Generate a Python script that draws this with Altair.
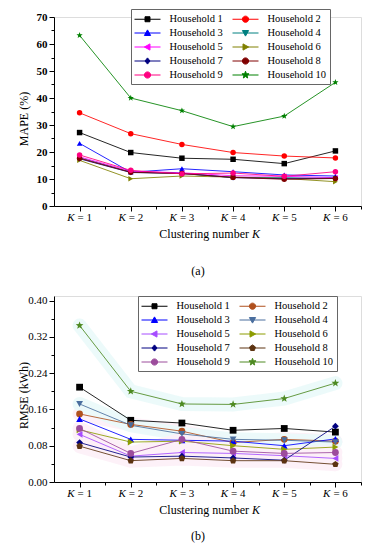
import math
import altair as alt
import pandas as pd

# ---------------- data ----------------
K_VALUES = [1, 2, 3, 4, 5, 6]
K_SUFFIX = ["= 1", "= 2", "= 3", "= 4", "= 5", "= 6"]
HOUSEHOLDS = ["Household 1", "Household 2", "Household 3", "Household 4", "Household 5",
              "Household 6", "Household 7", "Household 8", "Household 9", "Household 10"]

# (a) MAPE (%)
mape_h1 = [27.2, 19.8, 17.7, 17.3, 15.7, 20.4]
mape_h2 = [34.5, 26.8, 22.8, 19.8, 18.5, 17.8]
mape_h3 = [23.2, 12.5, 13.8, 12.7, 11.5, 11.1]
mape_h4 = [17.9, 12.6, 12.0, 10.6, 10.5, 10.2]
mape_h5 = [18.2, 12.9, 12.3, 11.2, 11.0, 10.5]
mape_h6 = [16.9, 10.1, 11.1, 10.7, 10.2, 9.0]
mape_h7 = [17.5, 12.4, 12.1, 10.5, 10.1, 10.3]
mape_h8 = [17.7, 12.5, 12.0, 10.6, 9.9, 10.2]
mape_h9 = [18.9, 13.2, 11.9, 12.2, 11.0, 12.7]
mape_h10 = [63.2, 40.0, 35.3, 29.4, 33.3, 45.8]

# (b) RMSE (kWh)
rmse_h1 = [0.209, 0.136, 0.130, 0.114, 0.118, 0.110]
rmse_h2 = [0.150, 0.127, 0.112, 0.087, 0.094, 0.090]
rmse_h3 = [0.139, 0.094, 0.092, 0.090, 0.080, 0.095]
rmse_h4 = [0.172, 0.125, 0.106, 0.094, 0.092, 0.088]
rmse_h5 = [0.105, 0.057, 0.065, 0.063, 0.058, 0.052]
rmse_h6 = [0.115, 0.088, 0.090, 0.080, 0.072, 0.077]
rmse_h7 = [0.087, 0.055, 0.057, 0.053, 0.048, 0.123]
rmse_h8 = [0.079, 0.047, 0.052, 0.047, 0.047, 0.039]
rmse_h9 = [0.118, 0.063, 0.094, 0.068, 0.063, 0.065]
rmse_h10 = [0.345, 0.200, 0.172, 0.171, 0.184, 0.218]

MAPE_SERIES = [mape_h1, mape_h2, mape_h3, mape_h4, mape_h5,
               mape_h6, mape_h7, mape_h8, mape_h9, mape_h10]
RMSE_SERIES = [rmse_h1, rmse_h2, rmse_h3, rmse_h4, rmse_h5,
               rmse_h6, rmse_h7, rmse_h8, rmse_h9, rmse_h10]

Y_TICKS_A = [0, 10, 20, 30, 40, 50, 60, 70]
Y_MINOR_A = [5, 15, 25, 35, 45, 55, 65]
Y_TICKS_B = [0.0, 0.08, 0.16, 0.24, 0.32, 0.40]
Y_MINOR_B = [0.04, 0.12, 0.20, 0.28, 0.36]
X_MINOR = [1.5, 2.5, 3.5, 4.5, 5.5, 6.5]

# ---------------- styles ----------------
FONT = "Liberation Serif"
W = 307
COLORS_A = ["#000000", "#FF0000", "#0000FF", "#008080", "#FF00FF",
            "#808000", "#000080", "#800000", "#FF0080", "#008000"]
COLORS_B = ["#000000", "#B0501E", "#0000FF", "#4A6E9E", "#A64DFF",
            "#8C9C00", "#000080", "#5C3311", "#9C4C9C", "#4E8A22"]
GLOW_B = ["transparent", "#FDEFF7", "transparent", "#EAFAFA", "#FDEFF7",
          "transparent", "transparent", "#FDEFF7", "#FDEFF7", "#EAFAFA"]
MARKERS_A = ["square", "circle", "triangle-up", "triangle-down", "triangle-left",
             "triangle-right", "diamond", "circle", "circle", "star"]
MARKERS_B = ["square", "circle", "triangle-up", "triangle-down", "triangle-left",
             "triangle-right", "diamond", "pentagon", "circle", "star"]


def _poly(n, r, inner=None, rot=-90.0):
    m = 2 * n if inner else n
    pts = []
    for i in range(m):
        a = math.radians(rot + i * 360.0 / m)
        rr = r if (inner is None or i % 2 == 0) else inner
        pts.append((rr * math.cos(a), rr * math.sin(a)))
    return "M" + "L".join(f"{x:.3f},{y:.3f}" for x, y in pts) + "Z"


def marker_path(kind, s):
    if kind == "square":
        q = s * 0.8
        return f"M{-q},{-q}H{q}V{q}H{-q}Z"
    if kind == "circle":
        return f"M{-s},0A{s},{s},0,1,0,{s},0A{s},{s},0,1,0,{-s},0Z"
    if kind == "triangle-up":
        return f"M0,{-s}L{s},{s*0.8}L{-s},{s*0.8}Z"
    if kind == "triangle-down":
        return f"M0,{s}L{s},{-s*0.8}L{-s},{-s*0.8}Z"
    if kind == "triangle-left":
        return f"M{-s},0L{s*0.8},{-s}L{s*0.8},{s}Z"
    if kind == "triangle-right":
        return f"M{s},0L{-s*0.8},{-s}L{-s*0.8},{s}Z"
    if kind == "diamond":
        return f"M0,{-s}L{s*0.8},0L0,{s}L{-s*0.8},0Z"
    if kind == "star":
        return _poly(5, s * 1.2, inner=s * 0.5)
    if kind == "pentagon":
        return _poly(5, s)
    return ""


def chart_shape(kind):
    if kind in ("star", "pentagon"):
        return marker_path(kind, 1.0)
    return kind


def legend_shape(kind):
    # symbol box is 13 px (unit = 6.5 px); the line spans 26 px
    return "M-2,0L2,0" + marker_path(kind, 0.48)


def long_table(series_list):
    rows = []
    for hh, vals in zip(HOUSEHOLDS, series_list):
        for k, v in zip(K_VALUES, vals):
            rows.append({"hh": hh, "K": k, "v": v})
    return pd.DataFrame(rows)


def panel(series, colors, markers, glow, y_max, y_major, y_minor, y_format, y_title,
          y_bold, title_dy, height, legend_x, legend_y, caption, caption_dy, pt_size):
    df = long_table(series)
    df_k = pd.DataFrame({"K": K_VALUES, "rest": K_SUFFIX})
    df_one = pd.DataFrame({"n": [0]})
    xs = alt.Scale(domain=[0.5, 6.5], nice=False, zero=False)
    ys = alt.Scale(domain=[0, y_max], nice=False, zero=False)
    col = alt.Color("hh:N", scale=alt.Scale(domain=HOUSEHOLDS, range=colors), legend=None)
    base = alt.Chart(df)

    layers = []
    if glow is not None:
        layers.append(base.mark_line(strokeWidth=14, opacity=0.9, strokeCap="round").encode(
            x=alt.X("K:Q", scale=xs, axis=None),
            y=alt.Y("v:Q", scale=ys, axis=None),
            stroke=alt.Stroke("hh:N", scale=alt.Scale(domain=HOUSEHOLDS, range=glow), legend=None),
        ))

    lines = base.mark_line(strokeWidth=1, opacity=0.85).encode(
        x=alt.X("K:Q", scale=xs, axis=alt.Axis(
            orient="bottom", values=K_VALUES, labels=False, title=None, grid=False,
            tickSize=5, tickColor="black", domainColor="black")),
        y=alt.Y("v:Q", scale=ys, axis=alt.Axis(
            orient="left", values=y_major, format=y_format, title=y_title, grid=False,
            tickSize=5, tickColor="black", domainColor="black",
            labelFont=FONT, labelFontSize=11, labelColor="black",
            labelFontWeight="bold" if y_bold else "normal", labelPadding=2,
            titleFont=FONT, titleFontSize=12, titleFontWeight="normal", titleColor="black",
            titleX=-31, titleY=height / 2 + title_dy, titleBaseline="middle")),
        color=col,
    )
    minor = base.mark_point().encode(
        x=alt.X("K:Q", scale=xs, axis=alt.Axis(
            orient="bottom", values=X_MINOR, labels=False, title=None, grid=False,
            domain=False, tickSize=3, tickColor="black")),
        y=alt.Y("v:Q", scale=ys, axis=alt.Axis(
            orient="left", values=y_minor, labels=False, title=None, grid=False,
            domain=False, tickSize=3, tickColor="black")),
    ).transform_filter("false")
    points = base.mark_point(filled=True, size=pt_size, opacity=1).encode(
        x=alt.X("K:Q", scale=xs, axis=None),
        y=alt.Y("v:Q", scale=ys, axis=None),
        color=col,
        shape=alt.Shape("hh:N", scale=alt.Scale(
            domain=HOUSEHOLDS, range=[chart_shape(m) for m in markers]), legend=None),
    )
    leg = alt.Legend(title=None, orient="none", legendX=legend_x, legendY=legend_y,
                     columns=2, direction="horizontal", columnPadding=7, rowPadding=1,
                     padding=3, strokeColor="#666666", fillColor="white",
                     labelFont=FONT, labelFontSize=10.5, labelColor="black",
                     labelOffset=15, labelLimit=200, symbolOffset=6.5,
                     symbolSize=169, symbolStrokeWidth=1, symbolOpacity=1)
    legend_layer = base.mark_point(filled=True).encode(
        x=alt.X("K:Q", scale=xs, axis=None),
        y=alt.Y("v:Q", scale=ys, axis=None),
        fill=alt.Fill("hh:N", scale=alt.Scale(domain=HOUSEHOLDS, range=colors), legend=leg),
        stroke=alt.Stroke("hh:N", scale=alt.Scale(domain=HOUSEHOLDS, range=colors), legend=leg),
        shape=alt.Shape("hh:N", scale=alt.Scale(
            domain=HOUSEHOLDS, range=[legend_shape(m) for m in markers]), legend=leg),
    ).transform_filter("false")

    xk = alt.Chart(df_k).mark_text(font=FONT, fontSize=11, fontStyle="italic",
                                   align="right", baseline="middle", dx=-5, color="black").encode(
        x=alt.X("K:Q", scale=xs, axis=None), y=alt.value(height + 12), text=alt.value("K"))
    xr = alt.Chart(df_k).mark_text(font=FONT, fontSize=11, align="left",
                                   baseline="middle", dx=-2, color="black").encode(
        x=alt.X("K:Q", scale=xs, axis=None), y=alt.value(height + 12), text="rest:N")
    t1 = alt.Chart(df_one).mark_text(font=FONT, fontSize=12, align="right",
                                     baseline="middle", color="black").encode(
        x=alt.value(195), y=alt.value(height + 28), text=alt.value("Clustering number"))
    t2 = alt.Chart(df_one).mark_text(font=FONT, fontSize=12, fontStyle="italic", align="left",
                                     baseline="middle", color="black").encode(
        x=alt.value(198), y=alt.value(height + 28), text=alt.value("K"))
    cap = alt.Chart(df_one).mark_text(font=FONT, fontSize=12, align="center",
                                      baseline="middle", color="black").encode(
        x=alt.value(W / 2 - 9.5), y=alt.value(height + caption_dy), text=alt.value(caption))

    layers += [lines, minor, points, legend_layer, xk, xr, t1, t2, cap]
    return alt.layer(*layers).resolve_scale(
        shape="independent", fill="independent", stroke="independent"
    ).resolve_axis(x="independent", y="independent").properties(width=W, height=height)


pa = panel(MAPE_SERIES, COLORS_A, MARKERS_A, None, 70, Y_TICKS_A, Y_MINOR_A, "d", "MAPE (%)",
           True, 7, 189, 77, -8, "(a)", 65, 30)
pb = panel(RMSE_SERIES, COLORS_B, MARKERS_B, GLOW_B, 0.41, Y_TICKS_B, Y_MINOR_B, ".2f",
           "RMSE (kWh)", False, 6, 186, 84, 0, "(b)", 54, 46)

chart = alt.vconcat(pa, pb, spacing=16).resolve_scale(
    color="independent", shape="independent", fill="independent", stroke="independent"
).properties(
    padding={"left": 8, "top": 0, "right": 0, "bottom": 0}
).configure_view(stroke=None).configure(font=FONT)

chart.save("out.html", embed_options={"renderer": "svg", "actions": False})
